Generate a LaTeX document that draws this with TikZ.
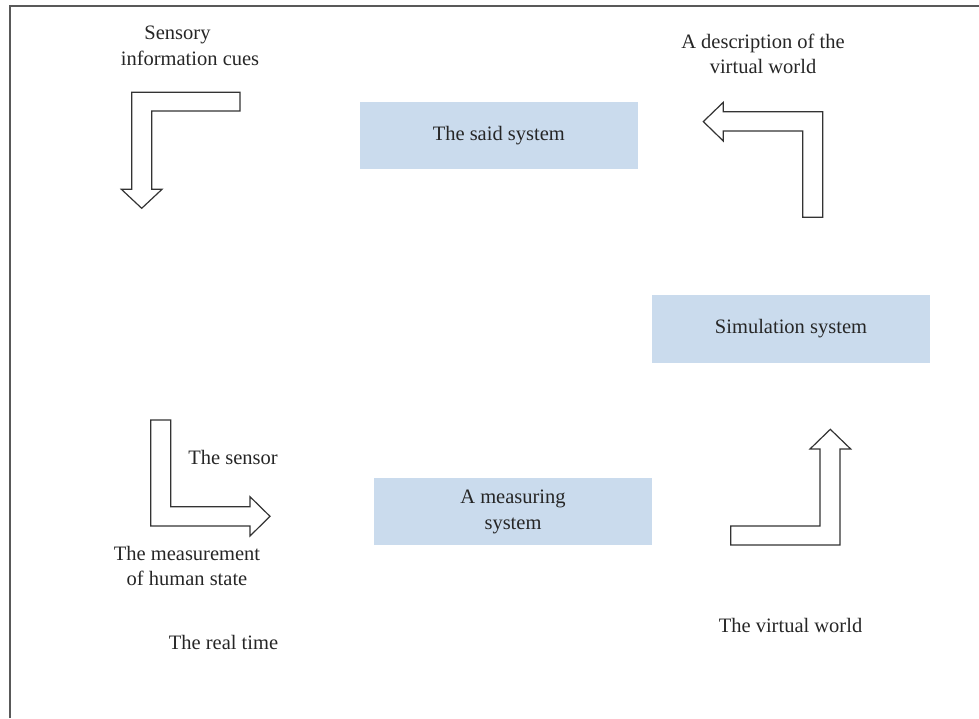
\documentclass[tikz,border=0pt]{standalone}
\usepackage{fontspec}
\setmainfont{Liberation Serif}
\begin{document}
\begin{tikzpicture}[x=1pt,y=-1pt,
  every node/.style={font=\fontsize{20.5}{25.5}\selectfont, text=black!85, inner sep=0pt, align=center},
  sysbox/.style={fill=boxblue, draw=none},
  blockarrow/.style={draw=black!80, line width=1.2pt, fill=white, line join=miter},
  frameline/.style={draw=black!65, line width=2pt}]
\definecolor{boxblue}{RGB}{202,219,237}
\useasboundingbox (0,0) rectangle (979,718);
\draw[frameline] (10,718) -- (10,6) -- (979,6);

% boxes
\node[sysbox, minimum width=277.7pt, minimum height=67pt] (said) at (498.8,135.8) {The said system};
\node[sysbox, minimum width=277.4pt, minimum height=67.7pt] (sim) at (791,328.8) {Simulation system};
\node[sysbox, minimum width=278pt, minimum height=67pt] (meas) at (513,511.8) {A measuring\\system};

% labels
\node (cues) at (190,46) {Sensory\hspace*{25pt}\\information cues};
\node (desc) at (763,54) {A description of the\\virtual world};
\node (sensor) at (233,457) {The sensor};
\node (human) at (187,566) {The measurement\\of human state};
\node (real) at (223.5,642) {The real time};
\node (virt) at (790.5,625) {The virtual world};

% block arrows
\draw[blockarrow] (131.7,92.3) -- (240,92.3) -- (240,111) -- (151.7,111) -- (151.7,189.3) -- (162,189.3) -- (141.7,208.3) -- (121.4,189.3) -- (131.7,189.3) -- cycle;
\draw[blockarrow] (822.7,217.3) -- (822.7,111.7) -- (723.3,111.7) -- (723.3,102.3) -- (703.3,121.6) -- (723.3,141) -- (723.3,131) -- (802.7,131) -- (802.7,217.3) -- cycle;
\draw[blockarrow] (150.7,420) -- (170.7,420) -- (170.7,506.7) -- (250,506.7) -- (250,496.7) -- (270,516.3) -- (250,536) -- (250,526) -- (150.7,526) -- cycle;
\draw[blockarrow] (730.7,526) -- (820,526) -- (820,449) -- (810,449) -- (830.3,429.3) -- (850.7,449) -- (840,449) -- (840,545) -- (730.7,545) -- cycle;
\end{tikzpicture}
\end{document}
